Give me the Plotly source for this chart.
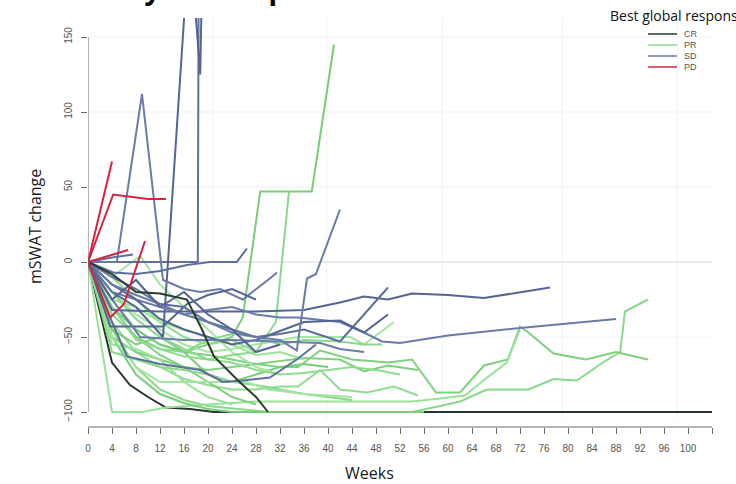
import plotly.graph_objects as go

# ---------------- data (weeks, mSWAT change %) ----------------
cr_weeks = [
    [0, 4, 7, 10, 13, 17, 21, 30, 40, 56, 72, 88, 104],
    [0, 4, 8, 12, 16.5, 19, 21, 25, 28, 30],
]
cr_values = [
    [0, -67, -82, -90, -97, -98, -100, -100, -100, -100, -100, -100, -100],
    [0, -8, -20, -21, -25, -45, -63, -79, -90, -100],
]

pr_weeks = [
    [0, 4, 8, 12, 16, 20, 25, 30, 40, 54, 58.7, 62, 66.5, 73.4, 77.6, 81.5, 85.8, 88.7, 89.5, 93.3],
    [0, 4, 8, 12, 16, 20, 24, 28, 32, 35, 38.7, 44, 50, 54, 58, 62, 66, 70, 72, 73.4, 77.6, 83, 88, 93.3],
    [0, 4, 9, 13, 20, 28, 36, 42, 48, 54, 58.7, 62.8, 65.9, 69.8, 72],
    [0, 4, 8, 12, 16, 20, 24, 25.8, 28.7, 37.3, 41],
    [0, 4, 8, 12, 16, 20, 24, 28, 32, 35, 38.7, 42, 46.5, 51, 55],
    [0, 4, 8, 12, 16, 20, 24, 28, 32, 35, 43.7, 46, 51],
    [0, 4, 8, 12, 16, 20, 24, 28, 32, 36, 42, 46, 49],
    [0, 4, 8, 12, 16, 20, 24, 28, 32, 36, 42, 46, 50, 55],
    [0, 4, 8, 12, 16, 20, 24],
    [0, 4, 8, 12, 16, 20, 24, 28, 32, 36, 40],
    [0, 4, 8, 12, 16, 20, 24, 28],
    [0, 2, 4, 8.7, 12, 16, 20, 24, 28, 32],
    [0, 4, 8, 12, 16, 20, 24, 28, 32, 36, 40, 44],
    [0, 4, 8, 12, 16, 20, 24, 28],
    [0, 4, 8, 12, 16, 20, 24, 28, 32, 36],
    [0, 4, 8, 12, 16, 20, 24, 56],
    [0, 4, 8, 12, 16, 20, 24, 28, 32, 36, 40, 44, 48, 52],
    [0, 4, 8, 12, 20, 26.5, 30, 36, 44],
    [0, 4, 8, 12, 16, 20, 24, 28, 31.3, 33.5],
]
pr_values = [
    [0, -45, -70, -85, -92, -96, -98, -100, -100, -100, -96, -93, -85, -85, -78, -79, -67, -60, -33, -25],
    [0, -25, -45, -55, -60, -62, -65, -68, -70, -70, -59, -65, -67, -65, -87, -87, -69, -65, -43, -47, -61, -65, -60, -65],
    [0, -100, -100, -97, -95, -93, -93, -93, -93, -93, -91, -89, -79, -67, -45],
    [0, -30, -45, -55, -60, -55, -50, -37, 47, 47, 145],
    [0, -40, -60, -70, -78, -82, -85, -85, -83, -83, -72, -85, -87, -83, -89],
    [0, -20, -35, -45, -55, -60, -58, -55, -52, -50, -50, -55, -40],
    [0, -35, -50, -58, -60, -52, -48, -50, -55, -52, -53, -55, -55],
    [0, -50, -60, -65, -70, -72, -70, -68, -66, -64, -65, -73, -69, -72],
    [0, -55, -58, -65, -80, -90, -95],
    [0, -45, -55, -50, -60, -75, -80, -75, -70, -68, -70],
    [0, -10, -25, -40, -50, -55, -52, -60],
    [0, -5, -10, 4, -15, -30, -45, -60, -70, -75],
    [0, -60, -65, -70, -72, -75, -80, -82, -85, -88, -90, -92],
    [0, -30, -50, -62, -70, -80, -90, -95],
    [0, -25, -30, -40, -45, -50, -55, -62, -60, -65],
    [0, -50, -75, -88, -94, -98, -100, -100],
    [0, -30, -52, -58, -63, -65, -67, -72, -75, -74, -72, -70, -72, -75],
    [0, -50, -70, -80, -80, -80, -85, -88, -90],
    [0, -20, -38, -50, -58, -65, -62, -60, -40, 47],
]

sd_weeks = [
    [0, 4, 8, 12, 16, 18.3, 18.5],
    [0, 4, 8, 12.5, 16.8, 17.3, 18.7, 19.2],
    [0, 4.8, 9, 12.5, 16, 18.7, 22, 25.8, 30.3, 31.5],
    [0, 4.2, 8, 12, 16.5, 20.3, 24.8, 26.5],
    [0, 4, 12, 20, 28, 36, 42, 46, 50, 54, 60, 66, 72, 77],
    [0, 4, 8, 12, 16, 20, 24, 28, 32, 35, 42, 46, 49, 52, 60, 72, 88],
    [0, 4, 8, 12, 16, 20, 24, 28, 32, 36, 42, 50],
    [0, 4, 8, 12, 16, 20, 24, 28, 32, 36, 42, 46, 50],
    [0, 4, 8, 12, 16, 20, 24, 28, 32, 34.8, 36.5, 38, 42],
    [0, 4, 7.5],
    [0, 3.7, 8, 12.5, 16.5, 20, 24, 28],
    [0, 4, 8.7, 16, 24, 32, 38.7, 42, 46],
    [0, 4, 6.5, 12, 18.7, 22.5, 25.8, 30.3, 34.8, 38],
    [0, 4, 8, 12, 16, 20, 24, 28, 32],
]
sd_values = [
    [0, 0, 0, 0, 0, 0, 260],
    [0, -20, -30, -50, 210, 200, 125, 230],
    [0, 0, 112, -12, -18, -20, -18, -25, -11, -7],
    [0, -7, -8, -6, -2, 0, 0, 9],
    [0, -32, -33, -33, -33, -32, -27, -23, -25, -21, -22, -24, -20, -17],
    [0, -20, -25, -30, -35, -32, -30, -35, -37, -37, -40, -47, -53, -54, -49, -44, -38],
    [0, -10, -18, -28, -30, -40, -45, -50, -48, -45, -53, -17],
    [0, -15, -25, -38, -45, -50, -55, -52, -46, -40, -39, -47, -35],
    [0, -15, -22, -28, -35, -40, -47, -50, -52, -59, -11, -8, 35],
    [0, 3, 5],
    [0, -43, -43, -43, -28, -22, -18, -25],
    [0, -25, -50, -52, -52, -53, -54, -58, -60],
    [0, -40, -63, -68, -72, -80, -79, -77, -65, -55],
    [0, -25, -12, -30, -20, -35, -45, -60, -55],
]

pd_weeks = [[0, 4], [0, 4.2, 10, 13], [0, 6.7], [0, 3.7, 6, 9.5]]
pd_values = [[0, 67], [0, 45, 42, 42], [0, 8], [0, -37, -28, 14]]

x_ticks = list(range(0, 105, 4))
x_labels = [str(t) if t <= 100 else "" for t in x_ticks]
y_ticks = [-100, -50, 0, 50, 100, 150]
grid_x = [20.8, 39.8, 59, 79, 98.2]
grid_y = [-50, 50, 100, 150]
legend_labels = ["CR", "PR", "SD", "PD"]
title_parts = ["Efficacy", "in Skin \u2013", "Spider Plot"]

# ---------------- styling ----------------
CR_COLORS = ["#26362a", "#2b3d2d"]
PR_COLORS = ["#8ad88a", "#80d080", "#98e298", "#7acc7a", "#8fdc8f", "#a2e6a2"]
SD_COLORS = ["#5d6f9b", "#536594", "#6a7ba7"]
PD_COLOR = "#d42440"
LEGEND_COLORS = ["#26362a", "#8fdc8f", "#6677a6", "#d42a45"]

L, R, T, B = 88, 21, 18, 57
W, H = 736, 484
PW, PH = W - L - R, H - T - B


def px_x(px):
    return (px - L) / PW


def px_y(py):
    return (H - B - py) / PH


fig = go.Figure()


def add_line(xs, ys, color, width=2):
    fig.add_trace(go.Scatter(x=xs, y=ys, mode="lines",
                             line=dict(color=color, width=width),
                             showlegend=False, hoverinfo="skip"))


add_line(cr_weeks[0], cr_values[0], CR_COLORS[0])
for i, (xs, ys) in enumerate(zip(pr_weeks, pr_values)):
    add_line(xs, ys, PR_COLORS[i % len(PR_COLORS)])
for i, (xs, ys) in enumerate(zip(sd_weeks, sd_values)):
    add_line(xs, ys, SD_COLORS[i % len(SD_COLORS)])
add_line(cr_weeks[1], cr_values[1], CR_COLORS[1])
for xs, ys in zip(pd_weeks, pd_values):
    add_line(xs, ys, PD_COLOR)

shapes = []
for gx in grid_x:
    shapes.append(dict(type="line", xref="x", yref="paper", x0=gx, x1=gx, y0=0.02, y1=1,
                       line=dict(color="#f1f1f1", width=1), layer="below"))
for gy in grid_y:
    shapes.append(dict(type="line", xref="x", yref="y", x0=0, x1=104, y0=gy, y1=gy,
                       line=dict(color="#f1f1f1", width=1), layer="below"))
shapes.append(dict(type="line", xref="x", yref="y", x0=0, x1=104, y0=0, y1=0,
                   line=dict(color="#d6d6d6", width=1), layer="below"))
# R-style axis lines
shapes.append(dict(type="line", xref="x", yref="y", x0=0, x1=0, y0=-100, y1=150,
                   line=dict(color="#6a6a6a", width=1)))
shapes.append(dict(type="line", xref="x", yref="paper", x0=0, x1=104, y0=0, y1=0,
                   line=dict(color="#6a6a6a", width=1)))

# manual legend
annotations = []
for i, (lab, col) in enumerate(zip(legend_labels, LEGEND_COLORS)):
    yy = px_y(34 + 11 * i)
    shapes.append(dict(type="line", xref="paper", yref="paper", x0=px_x(648), x1=px_x(677),
                       y0=yy, y1=yy, line=dict(color=col, width=1.5)))
    annotations.append(dict(xref="paper", yref="paper", x=px_x(682), y=yy, text=lab,
                            showarrow=False, xanchor="left", yanchor="middle",
                            font=dict(family="Liberation Sans", size=9, color="#555555")))

title_font = dict(family="Open Sans", size=28, color="#000000")
annotations += [
    dict(xref="paper", yref="paper", x=px_x(608), y=px_y(15), text="Best global response",
         showarrow=False, xanchor="left", yanchor="middle",
         font=dict(family="Open Sans", size=14, color="#111111")),
    dict(xref="paper", yref="paper", x=px_x(35), y=px_y(227), text="mSWAT change",
         showarrow=False, textangle=-90, xanchor="center", yanchor="middle",
         font=dict(family="Open Sans", size=16, color="#1a1a1a")),
    dict(xref="paper", yref="paper", x=px_x(369), y=px_y(473), text="Weeks",
         showarrow=False, xanchor="center", yanchor="middle",
         font=dict(family="Open Sans", size=16, color="#1a1a1a")),
    # page title (mostly above the visible area, only descenders show)
    dict(xref="paper", yref="paper", x=px_x(163), y=px_y(9), text="<b>%s</b>" % title_parts[0],
         showarrow=False, xanchor="right", yanchor="bottom", font=title_font),
    dict(xref="paper", yref="paper", x=px_x(207), y=px_y(0), text="<b>%s</b>" % title_parts[1],
         showarrow=False, xanchor="center", yanchor="bottom",
         font=dict(family="Open Sans", size=18, color="#000000")),
    dict(xref="paper", yref="paper", x=px_x(251), y=px_y(9), text="<b>%s</b>" % title_parts[2],
         showarrow=False, xanchor="left", yanchor="bottom", font=title_font),
]

fig.update_layout(
    width=W, height=H,
    margin=dict(l=L, r=R, t=T, b=B, autoexpand=False),
    paper_bgcolor="white", plot_bgcolor="white",
    shapes=shapes, annotations=annotations,
    showlegend=False,
    xaxis=dict(range=[0, 104.5], tickmode="array", tickvals=x_ticks, ticktext=x_labels,
               ticks="outside", ticklen=6, tickcolor="#6a6a6a", tickwidth=1, automargin=False,
               showgrid=False, zeroline=False, showline=False, ticklabelstandoff=6,
               tickfont=dict(family="Liberation Sans Narrow, Liberation Sans", size=10, color="#555555")),
    yaxis=dict(range=[-110, 162.67], tickmode="array", tickvals=y_ticks, automargin=False,
               ticks="outside", ticklen=6, tickcolor="#6a6a6a", tickwidth=1, tickangle=-90,
               showgrid=False, zeroline=False, showline=False, ticklabelstandoff=5,
               tickfont=dict(family="Liberation Sans Narrow, Liberation Sans", size=10, color="#555555")),
)

fig.write_html("out.html", config={"displayModeBar": False},
               post_script="document.body.style.margin='0px';")
